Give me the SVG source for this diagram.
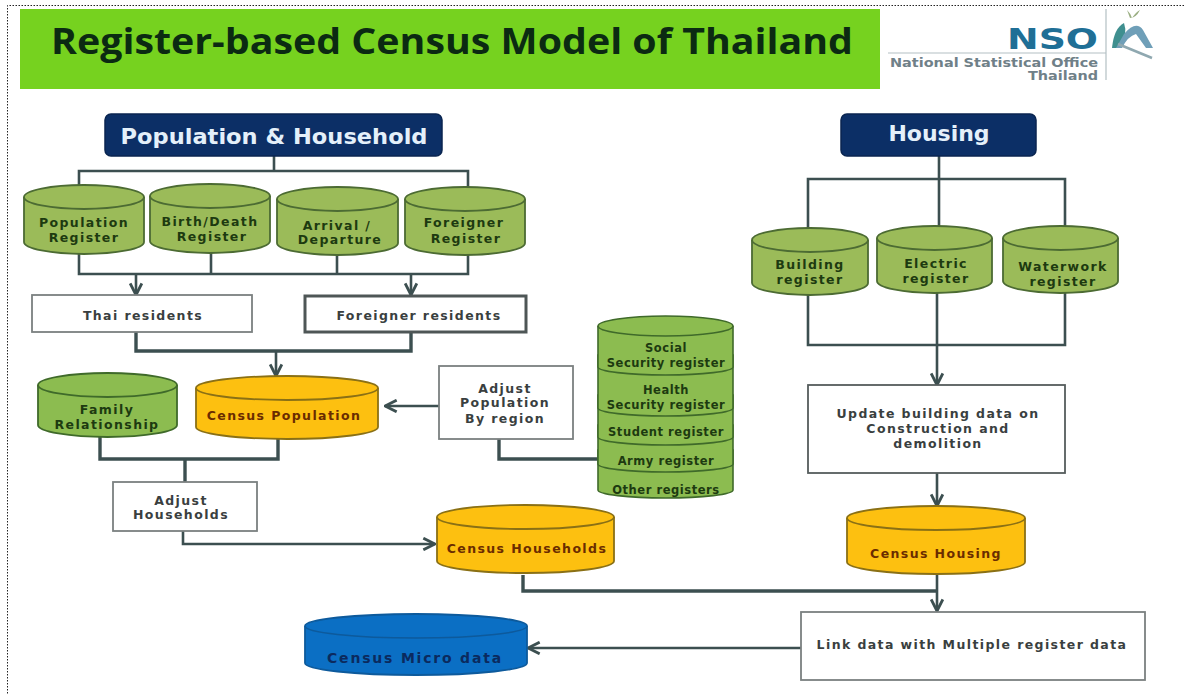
<svg xmlns="http://www.w3.org/2000/svg" width="1184" height="695" viewBox="0 0 1184 695">
<defs>
<marker id="arrow" viewBox="0 0 12 12" refX="11" refY="6" markerWidth="14" markerHeight="14" markerUnits="userSpaceOnUse" orient="auto">
<path d="M1 1 L11 6 L1 11" fill="none" stroke="#3c4f50" stroke-width="2.4"/>
</marker>
</defs>
<style>
.lab{font-family:"DejaVu Sans",sans-serif;font-weight:700;font-size:12.5px;text-anchor:middle;letter-spacing:1.4px}
.st{font-size:11.5px;letter-spacing:.55px}
.gt{fill:#1d3a10}.wt{fill:#3a3f3f}.ot{fill:#6a2c00}.bt{fill:#0b2a5e}
.hd{font-family:"DejaVu Sans",sans-serif;font-weight:700;font-size:22px;fill:#e4f0fa;text-anchor:middle}
.navy{fill:#0c2f66;stroke:#0a2550;stroke-width:1.5}
.box{fill:#fff;stroke:#7b8080;stroke-width:1.8}
.boxm{fill:#fff;stroke:#555c5c;stroke-width:1.8}
.boxd{fill:#fff;stroke:#4e5656;stroke-width:3}
.g{fill:#9bbb59;stroke:#4c6b33;stroke-width:1.8}
.g2{fill:#8cbc50;stroke:#3f6a2a;stroke-width:1.8}
.gs{fill:#8cbc50;stroke:#3f6a2a;stroke-width:1.6}
.y{fill:#fdc010;stroke:#8a7015;stroke-width:1.8}
.b{fill:#0b6fc4;stroke:#0d5a9c;stroke-width:1.8}
.nf{fill:none}
.line{fill:none;stroke:#3c4f50;stroke-width:2.6}
.thick{fill:none;stroke:#3c4f50;stroke-width:3.4}
.a{marker-end:url(#arrow)}
.logo{font-family:"DejaVu Sans",sans-serif;font-weight:700;font-size:12.5px;fill:#6f8088;text-anchor:end}
</style>

<path d="M1184 5.500H7.500V695" fill="none" stroke="#222" stroke-width="1" stroke-dasharray="1.500 1.500"/>

<g id="title">
<rect x="20" y="9" width="860" height="80" fill="#76d21f"/>
<text x="452" y="54" font-family="'Open Sans',sans-serif" font-weight="700" font-size="35.500" fill="#0b2a12" text-anchor="middle" textLength="802" lengthAdjust="spacingAndGlyphs">Register-based Census Model of Thailand</text>
</g>

<g id="logo">
<path d="M888 53H1106M1106 9V80" fill="none" stroke="#b4c0c4" stroke-width="1.200"/>
<text x="1098" y="49" font-family="'DejaVu Sans',sans-serif" font-weight="700" font-size="29" fill="#1f6f96" text-anchor="end" textLength="91" lengthAdjust="spacingAndGlyphs">NSO</text>
<text x="1098" y="67" class="logo" textLength="208" lengthAdjust="spacingAndGlyphs">National Statistical Office</text>
<text x="1098" y="80" class="logo" textLength="70" lengthAdjust="spacingAndGlyphs">Thailand</text>
<path d="M1112 48Q1114 28 1124 23Q1128 34 1120 48Z" fill="#3f8f8f"/>
<path d="M1124 34Q1136 20 1143 30L1153 48L1146 48L1136 34Q1128 36 1122 48L1116 48Z" fill="#6f9fb8"/>
<path d="M1118 44L1152 58" stroke="#8fa8b0" stroke-width="2.500" fill="none"/>
<path d="M1127 10Q1131 14 1132 18Q1136 12 1140 10Q1136 18 1130 18Z" fill="#9aae82"/>
</g>

<g id="connectors">
<path class="line" d="M274 156V171M79 185V171H468V187"/>
<path class="line" d="M79 254V274H468V255M211 253V274M337 255V274"/>
<path class="line a" d="M136 274V295"/>
<path class="line a" d="M411 274V295"/>
<path class="thick" d="M136 332V351H411V332"/>
<path class="line a" d="M276 351V376"/>
<path class="thick" d="M100 437V459H278V439"/>
<path class="thick" d="M185 459V482"/>
<path class="line a" d="M439 406H385"/>
<path class="thick" d="M499 439V459H598"/>
<path class="line a" d="M183 531V544H435"/>
<path class="line" d="M939 156V226M808 228V179H1065V226"/>
<path class="line" d="M808 295V345H1065V293M937 293V345"/>
<path class="line a" d="M937 345V385"/>
<path class="line a" d="M937 473V506"/>
<path class="thick" d="M523 575V591H937"/>
<path class="line a" d="M937 574V611"/>
<path class="line a" d="M801 648H528"/>
</g>

<g id="population-household"><rect class="navy" x="105" y="114" width="337" height="42" rx="6"/><text class="hd" x="274" y="144" textLength="307" lengthAdjust="spacingAndGlyphs">Population &amp; Household</text></g>
<g id="housing"><rect class="navy" x="841" y="114" width="195" height="42" rx="6"/><text class="hd" x="939" y="141">Housing</text></g>

<g id="population-register"><path class="g" d="M24 197A60 12 0 0 1 144 197V242A60 12 0 0 1 24 242Z"/><path class="g nf" style="fill:none" d="M24 197A60 12 0 0 0 144 197"/><text class="lab gt" x="84" y="227">Population</text><text class="lab gt" x="84" y="242">Register</text></g>
<g id="birth-death-register"><path class="g" d="M150 196A60 12 0 0 1 270 196V241A60 12 0 0 1 150 241Z"/><path class="g" style="fill:none" d="M150 196A60 12 0 0 0 270 196"/><text class="lab gt" x="210" y="226">Birth/Death</text><text class="lab gt" x="212" y="241">Register</text></g>
<g id="arrival-departure"><path class="g" d="M277 199A60.500 12 0 0 1 398 199V243A60.500 12 0 0 1 277 243Z"/><path class="g" style="fill:none" d="M277 199A60.500 12 0 0 0 398 199"/><text class="lab gt" x="337" y="230">Arrival /</text><text class="lab gt" x="340" y="244">Departure</text></g>
<g id="foreigner-register"><path class="g" d="M405 199A60 12 0 0 1 525 199V243A60 12 0 0 1 405 243Z"/><path class="g" style="fill:none" d="M405 199A60 12 0 0 0 525 199"/><text class="lab gt" x="464" y="227">Foreigner</text><text class="lab gt" x="466" y="243">Register</text></g>

<g id="thai-residents"><rect class="box" x="32" y="295" width="220" height="37"/><text class="lab wt" x="143" y="320">Thai residents</text></g>
<g id="foreigner-residents"><rect class="boxd" x="305" y="296" width="221" height="36"/><text class="lab wt" x="419" y="320">Foreigner residents</text></g>

<g id="family-relationship"><path class="g2" d="M38 385A69.500 12 0 0 1 177 385V425A69.500 12 0 0 1 38 425Z"/><path class="g2" style="fill:none" d="M38 385A69.500 12 0 0 0 177 385"/><text class="lab gt" x="107" y="414">Family</text><text class="lab gt" x="107" y="429">Relationship</text></g>
<g id="census-population"><path class="y" d="M196 388A91 12 0 0 1 378 388V427A91 12 0 0 1 196 427Z"/><path class="y" style="fill:none" d="M196 388A91 12 0 0 0 378 388"/><text class="lab ot" x="284" y="420">Census Population</text></g>
<g id="adjust-population"><rect class="box" x="439" y="366" width="134" height="73"/><text class="lab wt" x="505" y="393">Adjust</text><text class="lab wt" x="505" y="407">Population</text><text class="lab wt" x="505" y="423">By region</text></g>
<g id="adjust-households"><rect class="box" x="113" y="482" width="144" height="49"/><text class="lab wt" x="181" y="505">Adjust</text><text class="lab wt" x="181" y="519">Households</text></g>

<g id="other-registers"><path class="gs" d="M598 450H733V490A67.500 8 0 0 1 598 490Z"/><text class="lab st gt" x="666" y="494">Other registers</text></g>
<g id="army-register"><path class="gs" d="M598 425H733V464A67.500 8 0 0 1 598 464Z"/><text class="lab st gt" x="666" y="465">Army register</text></g>
<g id="student-register"><path class="gs" d="M598 395H733V437A67.500 8 0 0 1 598 437Z"/><text class="lab st gt" x="666" y="436">Student register</text></g>
<g id="health-register"><path class="gs" d="M598 355H733V408A67.500 8 0 0 1 598 408Z"/><text class="lab st gt" x="666" y="394">Health</text><text class="lab st gt" x="666" y="409">Security register</text></g>
<g id="social-register"><path class="gs" d="M598 326A67.500 10 0 0 1 733 326V367A67.500 8 0 0 1 598 367Z"/><path class="gs" style="fill:none" d="M598 326A67.500 10 0 0 0 733 326"/><text class="lab st gt" x="666" y="352">Social</text><text class="lab st gt" x="666" y="367">Security register</text></g>

<g id="building-register"><path class="g" d="M752 240A58 12 0 0 1 868 240V283A58 12 0 0 1 752 283Z"/><path class="g" style="fill:none" d="M752 240A58 12 0 0 0 868 240"/><text class="lab gt" x="810" y="269">Building</text><text class="lab gt" x="810" y="284">register</text></g>
<g id="electric-register"><path class="g" d="M877 238A57.500 12 0 0 1 992 238V281A57.500 12 0 0 1 877 281Z"/><path class="g" style="fill:none" d="M877 238A57.500 12 0 0 0 992 238"/><text class="lab gt" x="936" y="268">Electric</text><text class="lab gt" x="936" y="283">register</text></g>
<g id="waterwork-register"><path class="g" d="M1003 238A57.500 12 0 0 1 1118 238V281A57.500 12 0 0 1 1003 281Z"/><path class="g" style="fill:none" d="M1003 238A57.500 12 0 0 0 1118 238"/><text class="lab gt" x="1063" y="271">Waterwork</text><text class="lab gt" x="1063" y="286">register</text></g>

<g id="update-building"><rect class="boxm" x="808" y="385" width="257" height="88"/><text class="lab wt" x="938" y="418">Update building data on</text><text class="lab wt" x="938" y="433">Construction and</text><text class="lab wt" x="938" y="448">demolition</text></g>
<g id="census-households"><path class="y" d="M437 517A88.500 12 0 0 1 614 517V561A88.500 12 0 0 1 437 561Z"/><path class="y" style="fill:none" d="M437 517A88.500 12 0 0 0 614 517"/><text class="lab ot" x="527" y="553">Census Households</text></g>
<g id="census-housing"><path class="y" d="M847 518A89 12 0 0 1 1025 518V562A89 12 0 0 1 847 562Z"/><path class="y" style="fill:none" d="M847 518A89 12 0 0 0 1025 518"/><text class="lab ot" x="936" y="558">Census Housing</text></g>
<g id="link-data"><rect class="box" x="801" y="612" width="344" height="68"/><text class="lab wt" x="972" y="649">Link data with Multiple register data</text></g>
<g id="census-micro-data"><path class="b" d="M305 626A111 12 0 0 1 527 626V663A111 12 0 0 1 305 663Z"/><path d="M305 626A111 12 0 0 0 527 626" fill="none" stroke="#0d5a9c" stroke-width="1.500"/><text class="lab bt" x="415" y="663" font-size="14" style="font-size:14px;letter-spacing:1.8px">Census Micro data</text></g>
</svg>
